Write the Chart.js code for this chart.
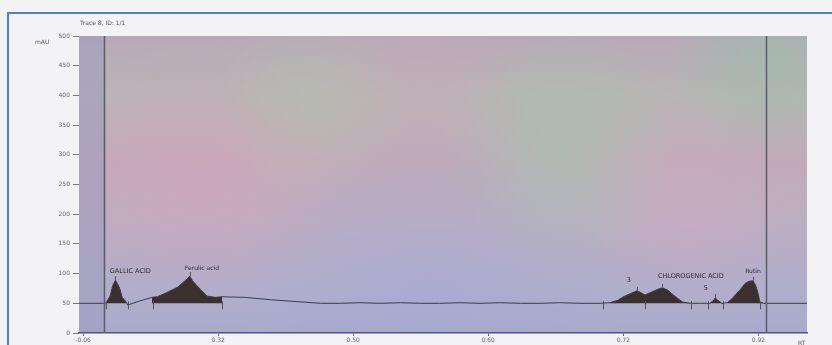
<!DOCTYPE html>
<html>
<head>
<meta charset="utf-8">
<script src="https://cdn.jsdelivr.net/npm/chart.js@4/dist/chart.umd.min.js"></script>
<style>
  html, body { margin: 0; padding: 0; background: #f3f3f6; }
  #wrap { position: relative; width: 832px; height: 345px; overflow: hidden; }
  #frame { position: absolute; left: 7px; top: 12px; width: 840px; height: 360px;
           border-left: 2px solid #4f82c4; border-top: 2px solid #4f82c4; pointer-events: none; }
  canvas { position: absolute; left: 0; top: 0; }
</style>
</head>
<body>
<div id="wrap">
  <canvas id="myChart" width="832" height="345"></canvas>
  <div id="frame"></div>
</div>
<script>
// retention axis (tick positions + printed labels)
const rtTicks = [0, 1, 2, 3, 4, 5];
const rtTickLabels = ['-0.06', '0.32', '0.50', '0.60', '0.72', '0.92'];

// detector trace
const traceRT = [-0.03, 0.16, 0.17, 0.20, 0.22, 0.24, 0.27, 0.29, 0.32, 0.33, 0.42, 0.51, 0.55, 0.62,
  0.70, 0.74, 0.77, 0.79, 0.81, 0.87, 0.92, 0.98, 1.03, 1.20, 1.39, 1.57, 1.76, 1.90, 2.05, 2.20,
  2.35, 2.50, 2.64, 2.79, 2.94, 3.09, 3.24, 3.39, 3.53, 3.68, 3.83, 3.90, 3.96, 4.00, 4.05, 4.10,
  4.13, 4.16, 4.21, 4.26, 4.29, 4.33, 4.37, 4.41, 4.44, 4.50, 4.57, 4.64, 4.67, 4.68, 4.70, 4.73,
  4.77, 4.81, 4.84, 4.87, 4.90, 4.93, 4.96, 4.98, 5.00, 5.01, 5.04, 5.16, 5.36];
const traceAU = [50, 50, 51, 62, 80, 89, 76, 60, 52, 47, 54, 60, 61, 68,
  77, 85, 91, 96, 88, 73, 62, 60, 61, 60, 56, 53, 50, 50, 51, 50,
  51, 50, 50, 51, 50, 51, 50, 50, 51, 50, 50, 51, 55, 61, 66, 71,
  68, 64, 69, 74, 76, 72, 64, 57, 52, 50, 50, 50, 55, 59, 55, 50,
  51, 59, 67, 74, 83, 87, 88, 80, 65, 52, 50, 50, 50];

// integrated (filled) peak windows
const peakWindows = [[0.17, 0.32], [0.51, 1.03], [3.90, 4.50], [4.64, 4.73], [4.77, 5.04]];

// peak annotations
const peakNames = ['GALLIC ACID', 'Ferulic acid', '3', 'CHLOROGENIC ACID', '5', 'Rutin'];
const peakLabelRT = [0.35, 0.88, 4.04, 4.50, 4.61, 4.96];
const peakLabelAU = [104, 108, 89, 96, 76, 104];

// integration marks
const boundaryRT = [0.17, 0.33, 0.52, 1.03, 3.85, 4.16, 4.50, 4.63, 4.74, 5.01];
const apexRT = [0.24, 0.79, 4.10, 4.29, 4.68, 4.96];
const apexAU = [89, 96, 71, 76, 59, 88];
const markerRT = [0.156, 5.059];

const tracePoints = traceRT.map((x, i) => ({ x: x, y: traceAU[i] }));

const peakSets = peakWindows.map(w => ({
  data: tracePoints.filter(p => p.x >= w[0] && p.x <= w[1]),
  borderColor: 'rgba(0,0,0,0)',
  backgroundColor: '#3a302e',
  borderWidth: 0,
  pointRadius: 0,
  fill: { value: 50 },
  tension: 0
}));

function blob(ctx, x, y, r, color) {
  const g = ctx.createRadialGradient(x, y, 0, x, y, r);
  g.addColorStop(0, color);
  g.addColorStop(1, color.replace(/[\d.]+\)$/, '0)'));
  ctx.fillStyle = g;
  ctx.fillRect(x - r, y - r, r * 2, r * 2);
}

const chromPlugin = {
  id: 'chrom',
  beforeDraw(chart) {
    const ctx = chart.ctx;
    const a = chart.chartArea;
    ctx.save();
    ctx.beginPath();
    ctx.rect(a.left, a.top, a.right - a.left, a.bottom - a.top);
    ctx.clip();
    const g = ctx.createLinearGradient(0, a.top, 0, a.bottom);
    g.addColorStop(0, '#b7aab7');
    g.addColorStop(0.2, '#b9b4b5');
    g.addColorStop(0.42, '#c2abb9');
    g.addColorStop(0.62, '#bcaec1');
    g.addColorStop(0.85, '#b0aecb');
    g.addColorStop(1, '#a9aacc');
    ctx.fillStyle = g;
    ctx.fillRect(a.left, a.top, a.right - a.left, a.bottom - a.top);
    blob(ctx, 560, 150, 120, 'rgba(160,198,172,0.55)');
    blob(ctx, 770, 60, 100, 'rgba(150,192,168,0.55)');
    blob(ctx, 200, 180, 140, 'rgba(216,160,186,0.45)');
    blob(ctx, 420, 60, 120, 'rgba(205,165,186,0.35)');
    blob(ctx, 310, 105, 100, 'rgba(178,198,172,0.35)');
    blob(ctx, 430, 300, 190, 'rgba(160,166,216,0.35)');
    blob(ctx, 690, 220, 100, 'rgba(212,165,192,0.35)');
    const xs = chart.scales.x;
    ctx.fillStyle = 'rgba(160,156,192,0.6)';
    ctx.fillRect(a.left, a.top, xs.getPixelForValue(markerRT[0]) - a.left, a.bottom - a.top);
    ctx.restore();
  },
  afterDatasetsDraw(chart) {
    const ctx = chart.ctx;
    const a = chart.chartArea;
    const xs = chart.scales.x, ys = chart.scales.y;
    ctx.save();
    // vertical event lines
    ctx.strokeStyle = '#5c5c66';
    ctx.lineWidth = 1.5;
    markerRT.forEach(rt => {
      const px = Math.round(xs.getPixelForValue(rt)) + 0.5;
      ctx.beginPath(); ctx.moveTo(px, a.top); ctx.lineTo(px, a.bottom); ctx.stroke();
    });
    // integration boundaries
    ctx.strokeStyle = '#555';
    ctx.lineWidth = 1;
    const base = ys.getPixelForValue(50);
    boundaryRT.forEach(rt => {
      const px = Math.round(xs.getPixelForValue(rt)) + 0.5;
      ctx.beginPath(); ctx.moveTo(px, base - 2); ctx.lineTo(px, base + 6); ctx.stroke();
    });
    apexRT.forEach((rt, i) => {
      const px = Math.round(xs.getPixelForValue(rt)) + 0.5;
      const py = ys.getPixelForValue(apexAU[i]);
      ctx.beginPath(); ctx.moveTo(px, py); ctx.lineTo(px, py - 4); ctx.stroke();
    });
    // peak names
    ctx.fillStyle = '#2e2a30';
    ctx.textAlign = 'center';
    ctx.textBaseline = 'middle';
    peakNames.forEach((n, i) => {
      ctx.font = (n === n.toUpperCase() ? '6.5px' : '6px') + ' "DejaVu Sans"';
      ctx.fillText(n, xs.getPixelForValue(peakLabelRT[i]), ys.getPixelForValue(peakLabelAU[i]));
    });
    // header texts
    ctx.fillStyle = '#555';
    ctx.font = '6px "DejaVu Sans"';
    ctx.textAlign = 'left';
    ctx.fillText('Trace 8, ID: 1/1', 80, 23);
    ctx.fillText('mAU', 35, 42);
    ctx.fillText('RT', 798, 343);
    ctx.restore();
  }
};

const ctx = document.getElementById('myChart').getContext('2d');
new Chart(ctx, {
  type: 'line',
  data: {
    datasets: [{
      data: tracePoints,
      borderColor: '#3c3c46',
      borderWidth: 1,
      pointRadius: 0,
      fill: false,
      tension: 0
    }].concat(peakSets)
  },
  options: {
    responsive: false,
    animation: false,
    devicePixelRatio: 1,
    layout: { padding: { left: 0, top: 36, right: 25, bottom: 0 } },
    plugins: { legend: { display: false }, tooltip: { enabled: false } },
    scales: {
      x: {
        type: 'linear',
        min: -0.03,
        max: 5.36,
        afterBuildTicks: s => { s.ticks = rtTicks.map(v => ({ value: v })); },
        afterFit: s => { s.height = 12; },
        ticks: {
          callback: v => rtTickLabels[rtTicks.indexOf(v)],
          color: '#666',
          font: { size: 6, family: 'DejaVu Sans' },
          padding: 1,
          maxRotation: 0
        },
        grid: { drawOnChartArea: false, tickLength: 3, color: '#666' },
        border: { color: '#4b5490', width: 1.5 }
      },
      y: {
        min: 0,
        max: 500,
        afterFit: s => { s.width = 79; },
        ticks: {
          stepSize: 50,
          color: '#666',
          font: { size: 6, family: 'DejaVu Sans' },
          padding: 3
        },
        grid: { drawOnChartArea: false, tickLength: 6, color: '#777' },
        border: { display: false }
      }
    }
  },
  plugins: [chromPlugin]
});
</script>
</body>
</html>
